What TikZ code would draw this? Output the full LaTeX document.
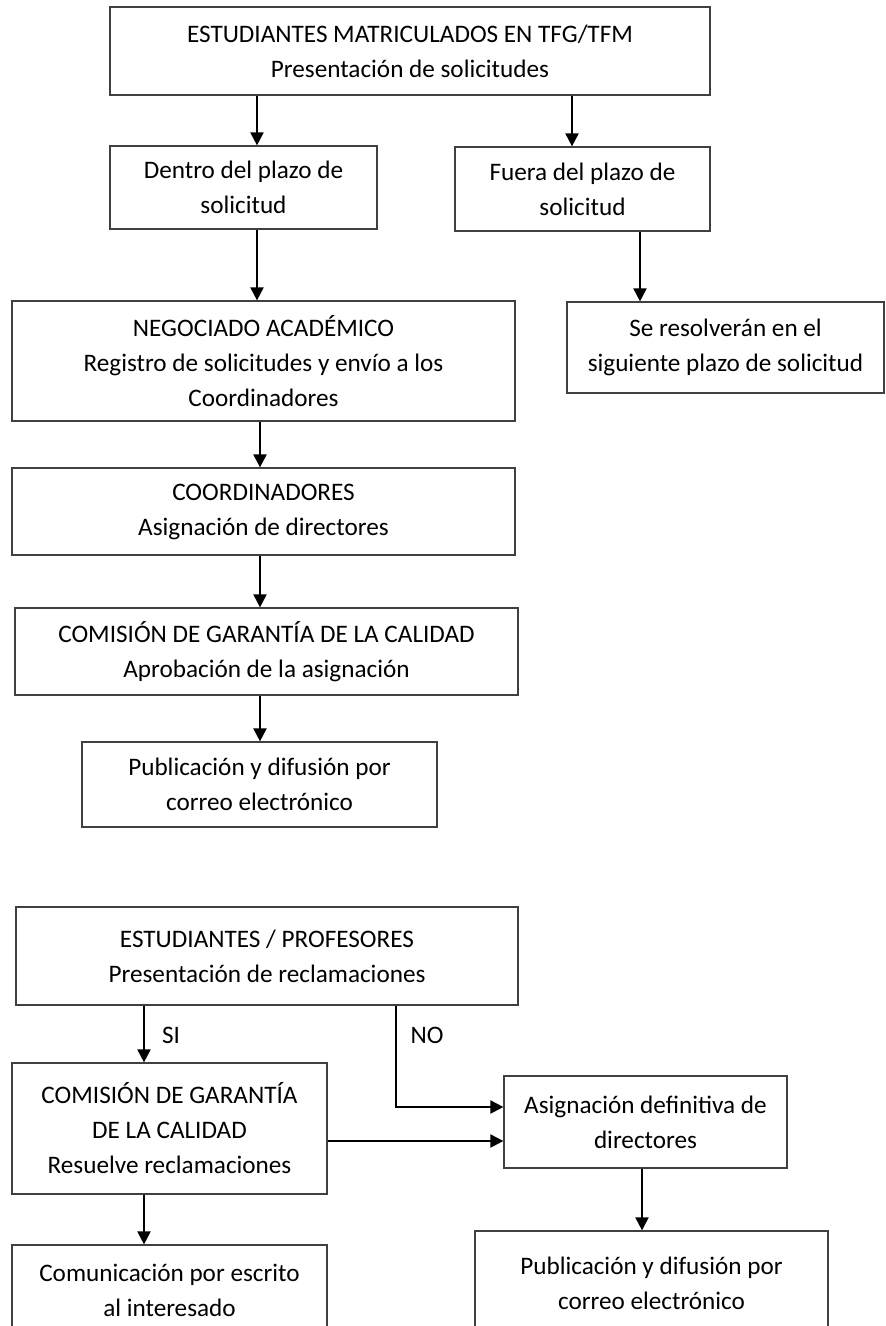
\documentclass[tikz,border=0pt]{standalone}
\usepackage{fontspec}
\setmainfont{Carlito}
\usetikzlibrary{arrows.meta,calc}
\begin{document}
\begin{tikzpicture}[x=0.5pt,y=-0.5pt,
  box/.style={draw=black!75, line width=0.6pt, rectangle, inner sep=0pt, align=center,
     font=\fontsize{12.6}{17.5}\selectfont},
  arr/.style={line width=1pt, -{Triangle[length=6.5pt,width=6.5pt]}},
  lbl/.style={font=\fontsize{12.6}{17.5}\selectfont, inner sep=0pt}]
\clip (0,0) rectangle (885,1326);
% top flow
\node[box, minimum width=300pt, minimum height=44pt] (top) at (410,51)
  {ESTUDIANTES MATRICULADOS EN TFG/TFM\\Presentación de solicitudes};
\node[box, minimum width=133.5pt, minimum height=41.5pt] (dentro) at (243.5,187.5)
  {Dentro del plazo de\\solicitud};
\node[box, minimum width=127.5pt, minimum height=42pt] (fuera) at (582.5,189)
  {Fuera del plazo de\\solicitud};
\node[box, minimum width=251.5pt, minimum height=60pt] (nego) at (263.5,361)
  {NEGOCIADO ACADÉMICO\\Registro de solicitudes y envío a los\\Coordinadores};
\node[box, minimum width=158.5pt, minimum height=45.5pt] (seres) at (725.5,347.5)
  {Se resolverán en el\\siguiente plazo de solicitud};
\node[box, minimum width=251.5pt, minimum height=43.5pt] (coord) at (263.5,511.5)
  {COORDINADORES\\Asignación de directores};
\node[box, minimum width=251.5pt, minimum height=43.5pt] (comision) at (266.5,651.5)
  {COMISIÓN DE GARANTÍA DE LA CALIDAD\\Aprobación de la asignación};
\node[box, minimum width=177.5pt, minimum height=42.5pt] (pub1) at (259.5,784.5)
  {Publicación y difusión por\\correo electrónico};
% bottom flow
\node[box, minimum width=251pt, minimum height=49pt] (estprof) at (267,956)
  {ESTUDIANTES / PROFESORES\\Presentación de reclamaciones};
\node[box, minimum width=157.5pt, minimum height=65.5pt] (comision2) at (169.5,1128.5)
  {COMISIÓN DE GARANTÍA\\DE LA CALIDAD\\Resuelve reclamaciones};
\node[box, minimum width=141.5pt, minimum height=46pt] (asig) at (645.5,1122)
  {Asignación definitiva de\\directores};
\node[box, minimum width=157.5pt, minimum height=45.5pt] (comun) at (169.5,1290.5)
  {Comunicación por escrito\\al interesado};
\node[box, minimum width=176.5pt, minimum height=52.5pt] (pub2) at (651.5,1283.5)
  {Publicación y difusión por\\correo electrónico};
% arrow x positions
\coordinate (xa) at (257,0);
\coordinate (xb) at (572,0);
\coordinate (xc) at (640,0);
\coordinate (xd) at (260,0);
\coordinate (xe) at (144,0);
\coordinate (xf) at (396,0);
\coordinate (xg) at (642,0);
\coordinate (yno) at (0,1107);
\coordinate (ysi) at (0,1141);
% connectors
\draw[arr] (top.south -| xa) -- (dentro.north -| xa);
\draw[arr] (top.south -| xb) -- (fuera.north -| xb);
\draw[arr] (dentro.south -| xa) -- (nego.north -| xa);
\draw[arr] (fuera.south -| xc) -- (seres.north -| xc);
\draw[arr] (nego.south -| xd) -- (coord.north -| xd);
\draw[arr] (coord.south -| xd) -- (comision.north -| xd);
\draw[arr] (comision.south -| xd) -- (pub1.north -| xd);
\draw[arr] (estprof.south -| xe) -- (comision2.north -| xe);
\draw[arr] (estprof.south -| xf) |- (asig.west |- yno);
\draw[arr] (comision2.east |- ysi) -- (asig.west |- ysi);
\draw[arr] (asig.south -| xg) -- (pub2.north -| xg);
\draw[arr] (comision2.south -| xe) -- (comun.north -| xe);
% labels
\node[lbl] (si) at (171,1035) {SI};
\node[lbl] (no) at (427,1035) {NO};
\end{tikzpicture}
\end{document}
